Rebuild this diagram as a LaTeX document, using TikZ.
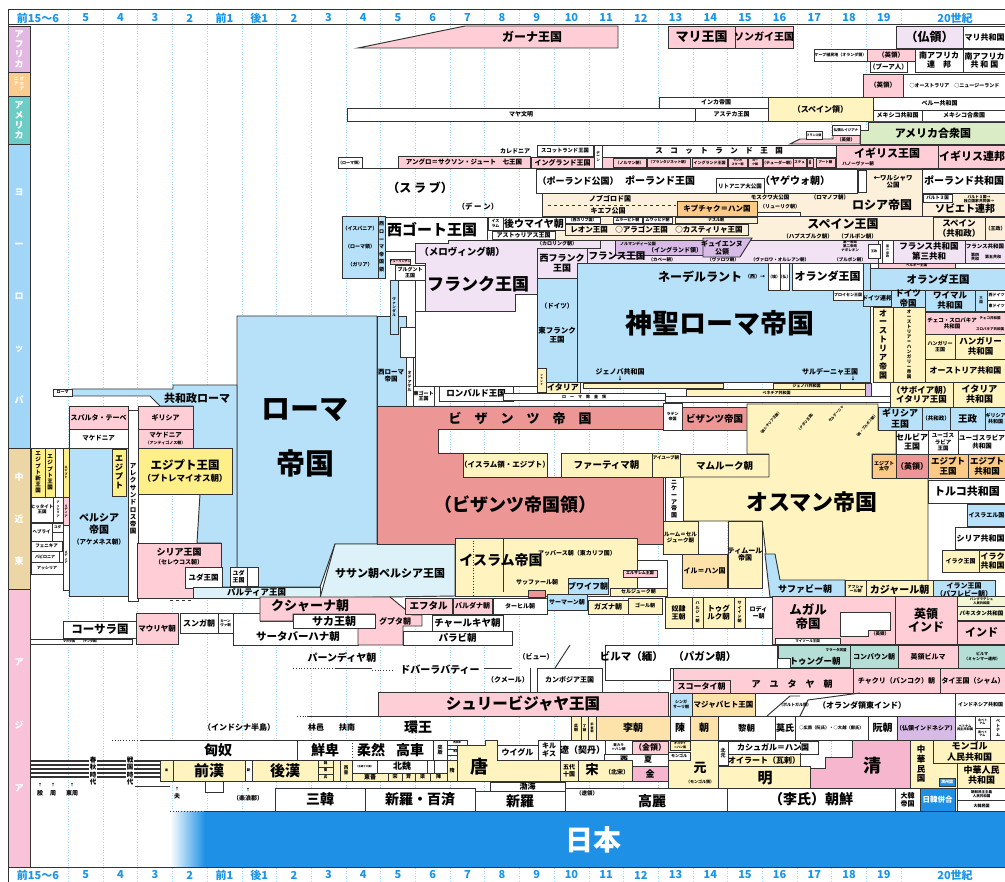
\documentclass[tikz,border=0pt]{standalone}
\usepackage{fontspec}
\setmainfont{Noto Sans CJK JP}
\definecolor{ln}{HTML}{333333}
\definecolor{axc}{HTML}{1A96E8}
\definecolor{grd}{HTML}{9FD6F2}
\definecolor{cAf}{HTML}{E2B8E2}
\definecolor{cOc}{HTML}{FBCC8F}
\definecolor{cAm}{HTML}{6DCDC6}
\definecolor{cEu}{HTML}{A2D6F6}
\definecolor{cME}{HTML}{EDD6A6}
\definecolor{cAs}{HTML}{F8C3D9}
\definecolor{pk}{HTML}{FFCDD6}
\definecolor{lav}{HTML}{F1E2F4}
\definecolor{lb}{HTML}{B6E1F8}
\definecolor{ylw}{HTML}{FFF4C0}
\definecolor{yl2}{HTML}{FFEF88}
\definecolor{byz}{HTML}{EC9696}
\definecolor{orng}{HTML}{FCC986}
\definecolor{peach}{HTML}{FDF0DA}
\definecolor{gr}{HTML}{D9ECC6}
\definecolor{teal}{HTML}{B5DFD6}
\definecolor{cy}{HTML}{DCF2F8}
\definecolor{pur}{HTML}{D8BAE6}
\definecolor{qing}{HTML}{F6B6CE}
\definecolor{tan}{HTML}{FDE2AA}
\definecolor{jpb}{HTML}{1E90E6}
\definecolor{ylg}{HTML}{F3F6D2}
\newcommand\F[1]{\fontsize{#1}{\fpeval{1.12*#1}}\selectfont}
\newcounter{bn}
% box with centred text: x1 y1 x2 y2 fill size text
\newcommand\B[7]{\stepcounter{bn}%
  \draw[bx,fill=#5] (#1,#2) rectangle (#3,#4);%
  \node[tx,font=\bfseries\F{#6}] (b\arabic{bn}) at ({(#1+#3)/2},{(#2+#4)/2}) {#7};}
% plain box
\newcommand\R[5]{\draw[bx,fill=#5] (#1,#2) rectangle (#3,#4);}
% text: x y size text
\newcommand\T[4]{\stepcounter{bn}\node[tx,font=\bfseries\F{#3}] (t\arabic{bn}) at (#1,#2) {#4};}
\tikzset{bx/.style={draw=ln,line width=0.95pt,line join=miter},
  tx/.style={inner sep=0pt,align=center,text=black},
  axl/.style={inner sep=0pt,font=\bfseries\F{11},text=axc},
  rgl/.style={inner sep=0pt,align=center,font=\bfseries\F{9},text=white}}
\begin{document}
\begin{tikzpicture}[x=1pt,y=-1pt]
\useasboundingbox (0,0) rectangle (1005,882);
\clip (0,0) rectangle (1005,882);
\fill[white] (0,0) rectangle (1005,882);
% grid
\foreach \k in {0,...,24}{\draw[grd,dotted,line width=0.6pt] ({68.3+34.7*\k},10) -- ({68.3+34.7*\k},882);}
% axis
\draw[ln,line width=1pt] (8,10) -- (1005,10) (8,25) -- (1005,25) (8,867) -- (1005,867) (8,10) -- (8,882);
\foreach \t [count=\i from 0] in {5,4,3,2,前1,後1,2,3,4,5,6,7,8,9,10,11,12,13,14,15,16,17,18,19}{
  \node[axl] (ta\i) at ({68.3+34.7*(\i+0.5)},18) {\t};
  \node[axl] (ba\i) at ({68.3+34.7*(\i+0.5)},875) {\t};}
\node[axl] (ta0b) at (38,18) {前15～6};
\node[axl] (ba0b) at (38,875) {前15～6};
\node[axl] (ta24) at (955,18) {20世紀};
\node[axl] (ba24) at (955,875) {20世紀};
% region bar
\draw[bx,fill=cAf] (8,26) rectangle (30,72); \node[rgl] (rAf) at (19,49) {ア\\フ\\リ\\カ};
\draw[bx,fill=cOc] (8,72) rectangle (30,96); \node[rgl,font=\bfseries\F{4.5}] (rOc) at (19,84) {ニ オ\\ア セ\\　 ア};
\draw[bx,fill=cAm] (8,96) rectangle (30,144); \node[rgl] (rAm) at (19,120) {ア\\メ\\リ\\カ};
\draw[bx,fill=cEu] (8,144) rectangle (30,448); \node[rgl] (rEu) at (19,296) {ヨ\\[42pt]ー\\[42pt]ロ\\[42pt]ッ\\[42pt]パ};
\draw[bx,fill=cME] (8,448) rectangle (30,589); \node[rgl] (rME) at (19,519) {中\\[32pt]近\\[32pt]東};
\draw[bx,fill=cAs] (8,589) rectangle (30,867); \node[rgl] (rAs) at (19,725) {ア\\[53pt]ジ\\[53pt]ア};
% ===== Africa / Oceania / America
\draw[bx,fill=pk] (358,48) -- (465,26) -- (618,26) -- (618,48) -- cycle; \T{532}{37}{12}{ガーナ王国}
\B{668}{26}{735}{48}{pk}{13}{マリ王国}
\B{735}{26}{793}{48}{pk}{10}{ソンガイ王国}
\B{896}{26}{963}{48}{lav}{12}{（仏領）}
\B{963}{26}{1006}{48}{white}{8}{マリ共和国}
\B{814}{49}{867}{61}{white}{4}{ケープ植民地（オランダ領）}
\B{867}{49}{915}{61}{pk}{6.5}{（英領）}
\B{870}{61}{907}{72}{white}{6.5}{（ブーア人）}
\B{915}{49}{963}{72}{white}{8}{南アフリカ\\連　邦}
\B{963}{49}{1006}{72}{white}{8}{南アフリカ\\共 和 国}
\B{863}{74}{903}{97}{pk}{6.5}{（英領）}
\B{903}{74}{1006}{97}{white}{5}{○オーストラリア　○ニュージーランド}
\B{659}{97}{773}{108}{white}{6}{インカ帝国}
\B{347}{108}{695}{121}{white}{6}{マヤ文明}
\B{695}{108}{768}{121}{white}{6}{アステカ王国}
\B{768}{97}{873}{121}{ylw}{8}{（スペイン領）}
\B{873}{97}{1006}{110}{white}{6}{ペルー共和国}
\B{873}{110}{922}{121}{white}{6}{メキシコ共和国}
\B{922}{110}{1006}{121}{white}{6}{メキシコ合衆国}
\draw[bx,fill=gr] (868,122) -- (1010,122) -- (1010,144) -- (860,144) -- (860,130) -- (868,130) -- cycle; \T{933}{133}{11}{アメリカ合衆国}
\draw[bx,fill=pk] (790,144) -- (800,139) -- (833,139) -- (833,135) -- (860,135) -- (860,144) -- cycle; \T{846}{140}{4.5}{（英領）}
\B{806}{131}{822}{139}{white}{3}{フランス領}
\B{832}{125}{860}{135}{white}{3.5}{仏領ルイジアナ}
% ===== Europe north
\B{338}{157}{362}{168}{white}{4}{（ローマ領）}
\draw[bx] (338,168) -- (602,168);
\B{398}{156}{530}{168}{pk}{6.5}{アングロ＝サクソン・ジュート　七王国}
\T{515}{151}{6}{カレドニア}
\B{537}{145}{593}{156}{white}{5.3}{スコットランド王国}
\B{531}{157}{594}{168}{pk}{7}{イングランド王国}
\B{594}{145}{602}{168}{white}{3.5}{デ\\ー\\ン}
\B{602}{145}{836}{157}{white}{7.5}{ス　コ　ッ　ト　ラ　ン　ド　王　国}
\R{602}{157}{836}{168}{pk}
\B{613}{158}{646}{167}{pk}{4}{（ノルマン朝）}
\B{647}{158}{690}{167}{pk}{3.6}{（プランタジネット朝）}
\B{692}{158}{727}{167}{pk}{4}{イングランド王国}
\B{728}{158}{747}{167}{pk}{3}{ランカ\\スター朝}
\B{748}{158}{762}{167}{pk}{3}{ヨー\\ク朝}
\B{763}{158}{793}{167}{pk}{4}{（テューダー朝）}
\B{793}{158}{806}{167}{pk}{3.5}{ステュ}
\B{807}{158}{813}{167}{pk}{2.5}{共\\和}
\B{816}{158}{835}{167}{pk}{3.5}{アート朝}
\R{836}{145}{938}{168}{pk} \T{887}{153}{11}{イギリス王国} \T{858}{164}{4.5}{ハノーヴァー朝}
\B{938}{145}{1006}{168}{pk}{11}{イギリス連邦}
% Russia / Poland
\draw[bx,fill=peach] (542,193) -- (857,193) -- (857,169) -- (922,169) -- (922,216) -- (542,216) -- cycle;
\draw[ln,dashed,line width=0.7pt] (548,205) -- (676,205);
\T{610}{199}{7}{ノブゴロド国} \T{608}{211}{7}{キエフ公国}
\T{770}{197}{5.5}{モスクワ大公国} \T{830}{197}{5.5}{（ロマノフ朝）} \T{780}{207}{5}{（リューリク朝）}
\T{882}{205}{12}{ロシア帝国}
\R{536}{169}{857}{193}{white}
\T{578}{181}{9}{（ポーランド公国）} \T{660}{181}{10}{ポーランド王国} \T{795}{181}{10}{（ヤゲウォ朝）}
\draw[bx,fill=white] (716,193) -- (716,178) -- (764,178) -- (764,193); \draw[white,line width=1pt] (717,178) -- (763,178); \draw[ln,dashed,line width=0.7pt] (716,178) -- (764,178);
\T{740}{186}{5.5}{リトアニア大公国}
\R{858}{170}{866}{192}{white}
\T{893}{182}{6.5}{←ワルシャワ\\公国}
\B{922}{169}{1006}{193}{white}{10}{ポーランド共和国}
\R{922}{193}{1006}{216}{peach}
\T{965}{209}{10}{ソビエト連邦}
\B{923}{194}{952}{202}{white}{4.5}{バルト３国}
\T{979}{199}{3.8}{バルト３国→\\独立国家共同体→}
\B{677}{201}{757}{216}{orng}{7.5}{キプチャク＝ハン国}
\R{757}{212}{800}{216}{white}
\T{420}{188}{12}{（ス ラ ブ）}
\T{478}{207}{7.5}{（デ ー ン）}
% Spain row
\R{555}{216}{933}{240}{peach}
\B{565}{217}{600}{223}{white}{4}{（西カリフ国）}
\B{613}{217}{642}{223}{white}{4}{ムラービト朝}
\B{643}{217}{672}{223}{white}{4}{ムワッヒド朝}
\B{675}{217}{757}{223}{peach}{4}{ナスル朝}
\B{565}{224}{748}{235}{peach}{7.5}{レオン王国　○アラゴン王国　○カスティリャ王国}
\T{843}{224}{12}{スペイン王国} \T{830}{236}{5.5}{（ハプスブルク朝）　（ブルボン朝）}
\B{933}{217}{985}{240}{peach}{8.5}{スペイン\\（共和政）}
\B{985}{217}{1006}{240}{peach}{5}{（王政）}
% Iberia / Goths
\R{342}{216}{378}{278}{lb}
\T{360}{229}{5}{（イスパニア）} \T{360}{247}{5}{（ローマ領）} \T{360}{265}{5}{（ガリア）}
\B{378}{216}{385}{278}{lb}{5}{西\\[2pt]ロ\\[2pt]ー\\[2pt]マ\\[2pt]帝\\[2pt]国\\[2pt]領}
\R{385}{217}{487}{251}{white}
\T{432}{230}{15}{西ゴート王国}
\B{488}{217}{503}{230}{white}{4}{イス\\ラム}
\B{503}{217}{565}{230}{white}{10}{後ウマイヤ朝}
\B{492}{231}{555}{239}{white}{6}{アストゥリアス王国}
% Franks
\draw[bx,fill=lav] (415,243) -- (448,243) -- (448,240) -- (600,240) -- (600,248) -- (537,248) -- (537,294) -- (515,294) -- (515,311) -- (425,311) -- (425,263) -- (415,263) -- cycle;
\T{462}{252}{9.5}{（メロヴィング朝）} \T{557}{244}{5}{（カロリング朝）}
\T{478}{284}{17}{フランク王国}
\B{395}{265}{425}{280}{white}{5}{ブルグント\\王国}
\B{390}{259}{410}{264}{pk}{3}{テューリンゲン}
\B{537}{248}{587}{278}{lav}{9}{西フランク\\王国}
\draw[bx,fill=lav] (587,248) -- (600,248) -- (600,240) -- (878,240) -- (878,263) -- (587,263) -- cycle;
\draw[bx,fill=pur] (615,240) -- (703,240) -- (703,255) -- (615,255) -- cycle;
\T{638}{244}{4}{ノルマンディー公国} \T{675}{250}{6}{（イングランド領）}
\draw[bx,fill=pur] (703,238) -- (752,238) -- (740,257) -- (703,257) -- cycle;
\T{722}{248}{7}{ギュイエンヌ\\公領}
\T{617}{256}{9.5}{フランス王国}
\T{662}{260}{4.5}{（カペー朝）} \T{723}{260}{4.5}{（ヴァロワ朝）} \T{780}{260}{4.5}{（ヴァロワ・オルレアン朝）} \T{850}{260}{4.5}{（ブルボン朝）}
\T{850}{246}{3.5}{第一帝政\\第二帝政\\ナポレオン}
\B{868}{244}{880}{258}{white}{3}{王政}
\B{882}{240}{893}{263}{white}{3}{第\\二\\帝\\政}
\B{893}{240}{965}{263}{lav}{8.5}{フランス共和国\\第三共和}
\R{965}{240}{1006}{263}{lav}
\T{985}{246}{5.5}{フランス共和国} \T{975}{257}{4}{第四\\共和} \T{993}{257}{4}{第五共和}
\B{878}{263}{955}{268}{pk}{3.5}{ベルギー王国}
% HRE
\R{577}{263}{870}{382}{lb}
\R{537}{278}{577}{382}{lb}
\T{557}{306}{6.5}{（ドイツ）} \T{557}{335}{7.5}{東フランク\\王国}
\T{720}{323}{27}{神聖ローマ帝国}
\T{700}{277}{12}{ネーデルラント} \T{755}{277}{5}{（西）→}
\B{768}{263}{780}{290}{white}{4}{（墺）}
\B{780}{263}{789}{290}{white}{4}{（仏）}
\B{792}{263}{863}{290}{white}{11}{オランダ王国}
\B{870}{268}{1006}{290}{lb}{10.5}{オランダ王国}
\B{833}{290}{863}{300}{white}{4}{プロイセン王国}
\B{863}{290}{891}{306}{lb}{6}{ドイツ連邦}
\B{891}{290}{925}{307}{lb}{8.5}{ドイツ\\帝国}
\B{925}{290}{975}{311}{lb}{8.5}{ワイマル\\共和国}
\B{975}{290}{987}{311}{lb}{3.5}{三\\国}
\B{987}{290}{1006}{300}{white}{4}{西ドイツ}
\B{987}{300}{1006}{311}{white}{4}{東ドイツ}
\B{873}{307}{893}{382}{ylw}{8}{オ\\ー\\ス\\ト\\リ\\ア\\帝\\国}
\B{893}{307}{925}{382}{ylw}{4.5}{オ\\ー\\ス\\ト\\リ\\ア\\＝\\ハ\\ン\\ガ\\リ\\ー\\帝\\国}
\R{925}{312}{1006}{334}{pk}
\T{952}{323}{5.5}{チェコ・スロバキア\\共和国} \T{990}{318}{3.5}{チェコ共和国} \T{990}{329}{3.5}{スロバキア共和国}
\B{925}{334}{955}{359}{ylw}{5}{ハンガリー\\王国}
\B{955}{334}{1006}{359}{ylw}{8.5}{ハンガリー\\共和国}
\B{925}{359}{1006}{382}{ylw}{8}{オーストリア共和国}
\B{890}{382}{953}{407}{ylw}{8.5}{（サボイア朝）\\イタリア王国}
\B{953}{382}{1006}{407}{ylw}{9}{イタリア\\共和国}
% Italy / Rome
\draw[bx,fill=white] (415,311) -- (515,311) -- (515,294) -- (537,294) -- (537,386) -- (415,386) -- cycle;
\R{398}{280}{415}{327}{white}
\draw[bx,fill=lb] (237,316) -- (377,316) -- (377,544) -- (335,544) -- (320,587) -- (237,587) -- cycle;
\T{305}{410}{29}{ローマ} \T{305}{463}{29}{帝国}
\R{377}{316}{406}{406}{lb} \T{391}{376}{6.5}{西ローマ\\帝国}
\B{390}{280}{398}{334}{lb}{3.5}{ヴ\\ァ\\ン\\ダ\\ル}
\R{400}{327}{415}{357}{white}
\B{406}{357}{413}{406}{white}{4}{オ\\ド\\ア\\ケ\\ル}
\B{413}{386}{434}{406}{white}{5}{東ゴート\\王国}
\B{439}{386}{513}{401}{white}{8.5}{ロンバルド王国}
\B{537}{368}{546}{392}{ylw}{2.5}{フ\\ラ\\ン\\ク}
\B{546}{382}{580}{393}{ylw}{8}{イタリア}
\B{503}{393}{665}{400}{white}{4}{ロ　ー　マ　教　皇　領}
\R{665}{396}{890}{402}{white}
\R{583}{383}{723}{388}{ylw}
\B{686}{389}{867}{396}{ylw}{4}{ベネチア共和国}
\B{773}{383}{840}{389}{ylw}{4}{ジェノバ共和国}
\R{840}{383}{868}{389}{ylw}
\R{865}{383}{871}{396}{pur}
\T{620}{372}{7}{ジェノバ共和国} \T{620}{379}{5}{↓}
\T{830}{372}{7}{サルデーニャ王国} \T{853}{379}{5}{↓}
% Roman republic & Greece
\draw[bx,fill=lb] (72,389) -- (173,389) -- (173,385) -- (237,385) -- (237,587) -- (221,587) -- (221,543) -- (197,543) -- (200,494) -- (193,494) -- (193,406) -- (160,406) -- (150,396) -- (72,396) -- cycle;
\B{53}{389}{72}{396}{white}{4}{ローマ}
\T{197}{398}{11}{共和政ローマ}
\B{69}{406}{128}{429}{pk}{7}{スパルタ・テーベ}
\B{138}{406}{193}{429}{pk}{7}{ギリシア}
\B{69}{429}{128}{448}{white}{6.5}{マケドニア}
\B{138}{429}{193}{448}{pk}{6.5}{マケドニア\\[-1pt]\F{4}（アンティゴノス朝）}
\R{69}{448}{128}{596}{lb}
\T{99}{524}{10}{ペルシア\\帝国} \T{99}{542}{6.5}{（アケメネス朝）}
\B{112}{449}{126}{496}{yl2}{8}{エ\\ジ\\プ\\ト}
\R{128}{410}{138}{601}{white}
\T{133}{499}{6.5}{ア\\レ\\ク\\サ\\ン\\ド\\ロ\\ス\\帝\\国}
\B{138}{448}{232}{494}{yl2}{11.5}{エジプト王国\\\F{8.5}（プトレマイオス朝）}
% Middle East left column
\B{31}{448}{45}{497}{yl2}{5.5}{エ\\ジ\\プ\\ト\\新\\王\\国}
\B{45}{448}{55}{497}{yl2}{5.5}{エ\\ジ\\プ\\ト\\王\\国}
\R{55}{448}{63}{497}{white}
\B{63}{448}{69}{497}{yl2}{3}{エ\\ジ\\プ\\ト}
\B{31}{497}{53}{522}{white}{4.5}{ヒッタイト\\王国}
\B{53}{497}{63}{522}{white}{3}{ア\\ッ\\シ\\リ\\ア}
\B{63}{497}{69}{525}{pk}{3}{リ\\デ\\ィ\\ア}
\B{31}{523}{52}{541}{white}{4.5}{ヘブライ}
\B{52}{523}{63}{532}{white}{3.5}{ユダ}
\B{31}{541}{62}{551}{white}{4.5}{フェニキア}
\B{31}{551}{59}{562}{white}{4}{バビロニア}
\B{31}{562}{63}{574}{white}{4}{アッシリア}
\B{63}{525}{69}{590}{white}{3}{メ\\デ\\ィ\\ア}
% Syria, Parthia, Sassanid
\R{137}{543}{221}{598}{pk}
\T{179}{552}{9}{シリア王国} \T{179}{562}{6}{（セレウコス朝）}
\B{185}{567}{222}{588}{white}{7.5}{ユダ王国}
\B{230}{567}{247}{586}{white}{6}{ユダ\\王国}
\R{247}{567}{258}{586}{white}
\draw[ln,dashed,line width=0.6pt] (170,600) -- (193,600);
\B{193}{587}{320}{598}{cy}{8.5}{パルティア王国}
\draw[bx,fill=cy] (320,598) -- (335,544) -- (455,544) -- (455,596) -- cycle;
\T{390}{573}{11}{ササン朝ペルシア王国}
% Byzantine
\draw[bx,fill=byz] (377,406) -- (663,406) -- (663,429) -- (438,429) -- (438,453) -- (463,453) -- (463,477) -- (663,477) -- (663,544) -- (377,544) -- cycle;
\T{520}{418}{13}{ビ　ザ　ン　ツ　帝　国}
\T{515}{505}{18}{（ビザンツ帝国領）}
\B{663}{403}{682}{430}{white}{4}{ラテン\\帝国}
\B{682}{407}{747}{430}{byz}{9.5}{ビザンツ帝国}
\B{463}{453}{547}{477}{ylw}{7.5}{（イスラム領・エジプト）}
\B{561}{453}{652}{477}{ylw}{9.5}{ファーティマ朝}
\R{652}{453}{680}{477}{ylw}
\T{666}{458}{4.5}{アイユーブ朝}
\B{680}{454}{769}{477}{ylw}{9.5}{マムルーク朝}
% Ottoman
\draw[bx,fill=ylw] (747,404) -- (878,404) -- (878,430) -- (896,430) -- (896,454) -- (872,454) -- (872,478) -- (928,478) -- (928,588) -- (770,588) -- (762,521) -- (683,521) -- (683,477) -- (769,477) -- (769,454) -- (747,454) -- cycle;
\T{812}{502}{22}{オスマン帝国}
\node[tx,rotate=50,font=\bfseries\F{3.5}] (rt1) at (770,423) {（両シチリア王国）};
\node[tx,rotate=50,font=\bfseries\F{3.5}] (rt2) at (806,422) {（ナポリ王国）};
\node[tx,rotate=50,font=\bfseries\F{3.5}] (rt3) at (836,414) {サルデーニャ};
\node[tx,rotate=50,font=\bfseries\F{3.5}] (rt4) at (866,426) {（両・ブルボン朝）};
\B{665}{477}{683}{521}{white}{6}{ニ\\ケ\\ー\\ア\\帝\\国}
\B{663}{521}{698}{554}{ylw}{5.5}{ルーム＝セル\\ジューク朝}
\B{682}{554}{727}{588}{tan}{7}{イル＝ハン国}
\B{728}{521}{762}{588}{ylw}{7}{ティムール\\帝国}
\draw[bx,fill=lb] (765,554) -- (775,554) -- (780,580) -- (845,580) -- (845,597) -- (770,597) -- cycle;
\T{805}{589}{9}{サファビー朝}
\B{845}{580}{866}{598}{ylw}{4}{アフシャ\\ール朝}
\B{866}{580}{933}{600}{ylw}{10}{カジャール朝}
\B{933}{580}{995}{600}{lb}{7}{イラン王国\\（パフレビー朝）}
\B{878}{407}{922}{430}{lb}{9}{ギリシア\\王国}
\B{922}{407}{950}{430}{lb}{5.5}{（共和政）}
\B{950}{407}{985}{430}{lb}{9.5}{王政}
\B{985}{407}{1006}{430}{lb}{5}{ギリシア\\共和国}
\B{896}{430}{928}{454}{white}{8}{セルビア\\王国}
\B{928}{430}{958}{454}{white}{5.5}{ユーゴス\\ラビア\\王国}
\B{958}{430}{1006}{454}{white}{6.5}{ユーゴスラビア\\共和国}
\B{872}{454}{896}{478}{orng}{5}{エジプト\\太守}
\B{896}{454}{928}{478}{byz}{8}{（英領）}
\B{928}{454}{968}{478}{orng}{8.5}{エジプト\\王国}
\B{968}{454}{1006}{478}{orng}{8.5}{エジプト\\共和国}
\B{928}{480}{1006}{503}{white}{11}{トルコ共和国}
\B{967}{504}{1006}{526}{lb}{6}{イスラエル国}
\B{955}{527}{1006}{549}{white}{8}{シリア共和国}
\B{942}{550}{979}{572}{ylw}{6}{イラク王国}
\B{979}{550}{1006}{572}{ylw}{8}{イラク\\共和国}
% Islam
\R{455}{538}{637}{596}{ylw}
\draw[ln,dotted,line width=0.7pt] (473,538) -- (473,596);
\draw[bx] (503,538) -- (503,592);
\T{501}{560}{14}{イスラム帝国}
\T{577}{553}{6}{アッバース朝（東カリフ国）}
\T{537}{582}{6}{サッファール朝}
\R{528}{590}{545}{597}{byz}
\R{637}{560}{667}{588}{white}
\B{623}{570}{657}{577}{pk}{4}{エルサレム王国}
\B{610}{588}{667}{596}{ylw}{5}{セルジューク朝}
\B{568}{578}{608}{594}{lb}{8}{ブワイフ朝}
\B{547}{594}{587}{610}{lb}{6}{サーマーン朝}
\B{493}{598}{547}{614}{white}{6}{ターヒル朝}
\B{588}{600}{628}{614}{ylw}{7}{ガズナ朝}
\B{628}{598}{662}{614}{ylw}{5}{ゴール朝}
% India
\B{63}{621}{137}{638}{white}{11.5}{コーサラ国}
\B{30}{639}{132}{644}{white}{3}{マガダ国　　（ナンダ朝）}
\B{136}{613}{178}{644}{pk}{7.5}{マウリヤ朝}
\B{180}{613}{218}{633}{white}{8}{スンガ朝}
\B{218}{613}{233}{633}{white}{3.5}{カーン\\ヴァ朝}
\draw[bx,fill=white] (233,613) -- (260,613) -- (260,621) -- (293,621) -- (293,628) -- (358,628) -- (358,645) -- (233,645) -- cycle;
\T{298}{637}{10.5}{サータバーハナ朝}
\draw[bx,fill=pk] (260,597) -- (390,597) -- (412,615) -- (422,615) -- (422,626) -- (403,626) -- (403,645) -- (358,645) -- (358,628) -- (375,628) -- (375,614) -- (293,614) -- (293,621) -- (260,621) -- cycle;
\T{310}{606}{13}{クシャーナ朝}
\B{293}{614}{375}{628}{white}{11}{サカ王朝}
\T{395}{621}{8}{グプタ朝}
\B{405}{598}{452}{614}{pk}{9.5}{エフタル}
\B{453}{598}{492}{614}{pk}{7}{バルダナ朝}
\B{432}{615}{503}{631}{white}{9.5}{チャールキヤ朝}
\B{403}{631}{512}{645}{white}{9.5}{パラビ朝}
\B{665}{597}{692}{628}{ylw}{7}{奴隷\\王朝}
\B{692}{597}{703}{628}{ylw}{4}{ハ\\ル\\ジ\\ー\\朝}
\B{703}{597}{734}{628}{ylw}{7.5}{トゥグ\\ルク朝}
\B{734}{597}{745}{628}{ylw}{4}{サ\\イ\\イ\\ド\\朝}
\B{745}{597}{772}{628}{white}{6}{ロディ\\ー朝}
\R{772}{596}{895}{644}{pk}
\draw[bx,fill=white] (840,612) -- (890,612) -- (890,630) -- (868,630) -- (868,636) -- (840,636) -- cycle;
\T{808}{617}{12.5}{ムガル\\帝国} \T{880}{634}{4.5}{（英領）}
\B{895}{596}{957}{644}{pk}{12}{英領\\インド}
\B{957}{596}{1006}{606}{ylg}{3.3}{バングラデシュ\\人民共和国}
\B{957}{606}{1006}{620}{ylg}{5.5}{パキスタン共和国}
\B{957}{621}{1006}{644}{pk}{11}{インド}
\B{775}{638}{840}{644}{white}{3.5}{マイソール王国}
% Southeast Asia
\draw[ln,dotted,line width=0.8pt] (293,668) -- (335,668); \draw[bx] (335,668) -- (372,668);
\T{342}{658}{10}{パーンディヤ朝}
\draw[ln,dotted,line width=0.8pt] (372,670) -- (393,670);
\T{440}{670}{10}{ドバーラバティー} \draw[bx] (484,668) -- (512,668);
\T{536}{657}{7}{（ビュー）} \draw[bx] (555,668) -- (570,645);
\T{508}{680}{7}{（クメール）} \draw[bx] (530,668) -- (530,692);
\B{537}{668}{602}{692}{white}{7}{カンボジア王国}
\draw[bx,fill=white] (605,645) -- (777,645) -- (777,668) -- (670,668) -- (670,680) -- (605,680) -- cycle;
\T{668}{656}{10.5}{ビルマ（緬）　（パガン朝）}
\draw[bx,fill=teal] (778,645) -- (850,645) -- (850,667) -- (790,667) -- (790,658) -- (778,658) -- cycle;
\T{815}{661}{8.5}{トゥングー朝} \T{836}{650}{3.5}{マラータ同盟}
\B{850}{645}{898}{668}{teal}{7}{コンバウン朝}
\B{898}{645}{958}{668}{pk}{7}{英領ビルマ}
\B{958}{645}{1006}{668}{teal}{4}{ビルマ\\（ミャンマー連邦）}
\draw[bx,fill=pk] (673,668) -- (853,668) -- (853,693) -- (730,693) -- (730,680) -- (673,680) -- cycle;
\T{792}{684}{9}{ア　ユ　タ　ヤ　朝}
\B{673}{680}{730}{693}{pk}{8}{スコータイ朝}
\B{853}{668}{940}{693}{pk}{7}{チャクリ（バンコク）朝}
\B{940}{668}{1006}{693}{pk}{7}{タイ王国（シャム）}
\draw[ln,dotted,line width=0.8pt] (378,693) -- (392,693);
\B{378}{692}{668}{716}{pk}{15.5}{シュリービジャヤ王国}
\B{670}{693}{692}{716}{lb}{4}{シンガ\\サーリ朝}
\B{692}{693}{755}{716}{tan}{7.5}{マジャパヒト王国}
\R{755}{693}{955}{716}{white}
\draw[bx] (767,716) -- (790,696) -- (800,696); \draw[bx] (800,716) -- (808,700) -- (860,693);
\T{795}{705}{4}{（ポルトガル領）} \T{862}{705}{8}{（オランダ領東インド）}
\B{955}{693}{1006}{716}{white}{5}{インドネシア共和国}
% Vietnam row
\draw[ln,dotted,line width=0.8pt] (297,716) -- (307,716); \draw[bx] (307,716) -- (571,716);
\T{239}{727}{8}{（インドシナ半島）} \T{316}{727}{8}{林邑} \T{347}{727}{8}{扶南} \T{418}{727}{14}{環王}
\B{571}{716}{581}{740}{ylw}{4}{呉\\朝}
\B{581}{716}{588}{740}{ylw}{3.5}{丁\\朝}
\B{588}{716}{596}{740}{ylw}{3}{前\\黎\\朝}
\B{596}{716}{670}{740}{tan}{10}{李朝}
\B{670}{716}{690}{740}{white}{10}{陳}
\B{690}{716}{718}{740}{tan}{10}{朝}
\B{718}{716}{775}{740}{white}{8.5}{黎朝}
\B{775}{716}{795}{740}{white}{9}{莫氏}
\B{795}{716}{868}{740}{white}{4.3}{○広南（阮氏）・○大越（鄭氏）}
\B{868}{716}{897}{740}{white}{10}{阮朝}
\B{897}{716}{955}{740}{pur}{6}{（仏領インドネシア）}
\B{955}{716}{975}{740}{white}{3.2}{ベトナム\\民主共和国}
\B{975}{716}{990}{728}{white}{3}{北ベト\\ナム}
\B{975}{728}{990}{740}{white}{3}{南ベト\\ナム}
\B{990}{716}{1006}{740}{white}{4}{ベ\\ト\\ナ\\ム}
% China
\draw[ln,dotted,line width=0.8pt] (112,740) -- (140,740) (140,740) -- (140,760);
\draw[bx,fill=white] (140,740) -- (297,740) -- (297,760) -- (140,760);
\T{218}{750}{14}{匈奴}
\R{297}{740}{447}{760}{white}
\draw[ln,dotted,line width=0.8pt] (352,740) -- (352,760);
\T{325}{750}{14}{鮮卑} \T{371}{750}{14}{柔然} \T{410}{750}{14}{高車}
\B{433}{740}{447}{760}{white}{5}{突\\厥}
\B{447}{740}{467}{745}{white}{2.5}{西突厥}
\B{447}{749}{467}{755}{white}{2.5}{東突厥}
\draw[bx,fill=ylw] (457,745) -- (485,745) -- (485,740) -- (497,740) -- (497,760) -- (560,760) -- (560,781) -- (457,781) -- cycle;
\T{479}{767}{18}{唐}
\B{497}{745}{538}{760}{white}{8}{ウイグル}
\B{538}{740}{560}{760}{white}{7}{キル\\ギス}
\B{560}{740}{605}{760}{white}{9}{遼（契丹）}
\B{605}{740}{632}{754}{white}{3.5}{東カラ\\＝ハン朝}
\B{632}{741}{668}{754}{pk}{8}{（金領）}
\B{604}{754}{668}{766}{white}{8}{西　　夏}
\B{560}{760}{578}{781}{ylw}{6}{五代\\十国}
\R{578}{760}{632}{781}{ylw}
\T{592}{770}{13}{宋} \T{617}{772}{6}{（北宋）}
\B{632}{766}{668}{781}{qing}{9}{金}
\R{668}{740}{718}{788}{ylw}
\T{700}{768}{13}{元} \T{700}{782}{4}{（モンゴル領）}
\B{670}{741}{690}{750}{ylw}{3}{オゴタイ\\＝ハン国}
\B{668}{752}{690}{760}{white}{4}{モンゴル}
\B{718}{741}{728}{765}{white}{5}{北\\元}
\B{728}{741}{818}{754}{white}{8}{カシュガル＝ハン国}
\draw[ln,dashed] (800,741) -- (800,754);
\B{728}{754}{800}{766}{ylw}{8}{オイラート（瓦剌）}
\R{718}{766}{810}{788}{ylw}
\T{765}{778}{15}{明}
\draw[bx,fill=qing] (852,740) -- (910,740) -- (910,788) -- (810,788) -- (810,768) -- (825,768) -- (825,757) -- (852,757) -- cycle;
\T{872}{766}{18}{清}
\draw[bx,fill=ylw] (910,740) -- (933,740) -- (933,763) -- (957,763) -- (957,788) -- (910,788) -- cycle;
\T{921}{764}{8.5}{中\\華\\民\\国}
\B{933}{740}{1006}{763}{ylw}{9}{モンゴル\\人民共和国}
\B{957}{763}{1006}{788}{ylw}{9}{中華人民\\共和国}
\B{939}{778}{955}{786}{jpb}{4}{\color{white}満州国}
% early China
\foreach \yy in {761,765,769,773,777}{\draw[ln,line width=1.6pt] (30,\yy) -- (168,\yy);}
\B{160}{760}{173}{781}{ylw}{3}{秦}
\node[tx,fill=white,inner sep=0.5pt,font=\bfseries\F{6.5}] (chq) at (93,771) {春\\秋\\時\\代};
\node[tx,fill=white,inner sep=0.5pt,font=\bfseries\F{6.5}] (zgk) at (130,771) {戦\\国\\時\\代};
\T{40}{793}{6}{殷} \T{53}{793}{6}{周} \T{72}{793}{6}{東周}
\T{40}{785}{4}{↑} \T{53}{785}{4}{↑} \T{72}{785}{4}{↑}
\B{173}{760}{245}{781}{ylw}{15}{前漢}
\B{245}{760}{252}{781}{white}{3.5}{新}
\B{252}{760}{318}{781}{ylw}{15}{後漢}
\B{318}{760}{333}{767}{ylw}{3.5}{魏}
\B{318}{767}{333}{774}{ylw}{3.5}{蜀}
\B{318}{774}{333}{781}{ylw}{3.5}{呉}
\R{333}{760}{340}{781}{ylw}
\B{340}{760}{352}{781}{ylw}{4.5}{西\\晋}
\B{352}{760}{377}{773}{white}{2.5}{（五胡十六国）}
\B{377}{760}{427}{773}{white}{9}{北魏}
\R{427}{760}{434}{773}{white}
\R{434}{760}{447}{773}{white}
\B{352}{773}{388}{781}{ylw}{6}{東晋}
\B{388}{773}{402}{781}{ylw}{5}{宋}
\B{402}{773}{415}{781}{ylw}{5}{斉}
\B{415}{773}{430}{781}{ylw}{5}{梁}
\B{430}{773}{447}{781}{ylw}{5}{陳}
\B{447}{760}{457}{781}{ylw}{5}{隋}
% Korea
\draw[bx] (135,786) -- (170,786);
\T{177}{796}{6}{夫} \T{177}{789}{4}{↑}
\T{248}{798}{6}{（楽浪郡）} \T{248}{790}{4}{↑}
\R{205}{781}{223}{792}{white}
\B{275}{788}{365}{811}{white}{14}{三韓}
\B{365}{788}{475}{811}{white}{14}{新羅・百済}
\B{475}{791}{565}{811}{white}{14}{新羅}
\B{490}{782}{565}{791}{white}{8}{渤海}
\R{565}{788}{727}{811}{white}
\T{587}{793}{5.5}{（遼領）} \T{652}{801}{14}{高麗}
\B{727}{788}{895}{811}{white}{14}{（李氏）朝鮮}
\B{895}{788}{920}{811}{white}{7}{大韓\\帝国}
\B{920}{788}{955}{811}{jpb}{7.5}{\color{white}日韓併合}
\B{957}{788}{1006}{800}{white}{3.5}{朝鮮民主主義\\人民共和国}
\B{957}{800}{1006}{811}{white}{4}{大韓民国}
% Japan
\shade[left color=white,right color=jpb] (170,811.5) rectangle (205,866.5);
\fill[jpb] (205,811.5) rectangle (1010,866.5);
\draw[ln,dotted,line width=0.8pt] (170,811) -- (205,811);
\draw[bx] (205,811) -- (1010,811);
\node[tx,text=white,font=\bfseries\F{28}] (jp) at (593,840) {日本};
\draw[ln,line width=1pt] (8,867) -- (1005,867);
\end{tikzpicture}
\end{document}
